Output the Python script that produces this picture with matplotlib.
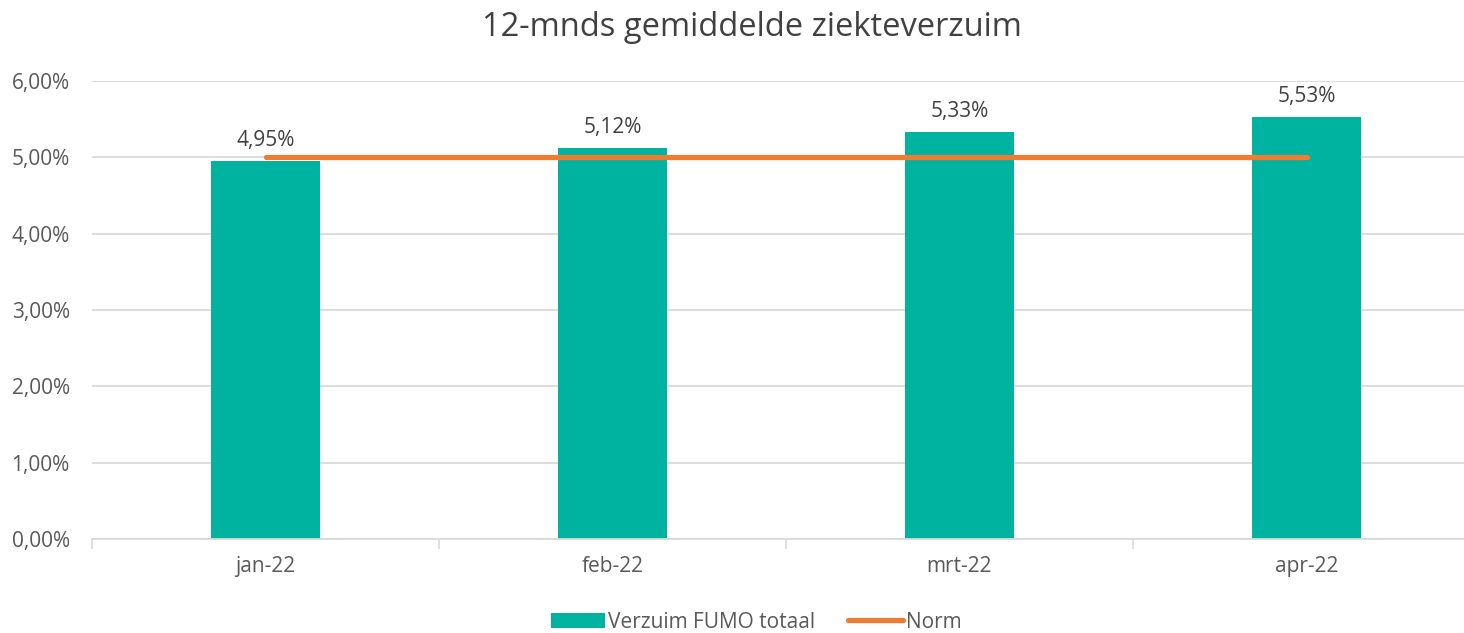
import matplotlib
matplotlib.use("Agg")
import matplotlib.pyplot as plt
from matplotlib.ticker import FuncFormatter

categories = ["jan-22", "feb-22", "mrt-22", "apr-22"]
verzuim = [4.95, 5.12, 5.33, 5.53]
norm = [5.0, 5.0, 5.0, 5.0]
yticks = [0, 1, 2, 3, 4, 5, 6]

plt.rcParams['font.family'] = ['Open Sans', 'DejaVu Sans']
txt = "#595959"

W, H = 1464, 633
fig = plt.figure(figsize=(W/100, H/100), dpi=100)
ax = fig.add_axes([92/W, 1-539/H, (1480-92)/W, (539-81)/H])

x = list(range(len(categories)))
ax.bar(x, verzuim, width=0.315, color="#00B2A0", zorder=2, label="Verzuim FUMO totaal")
ax.plot(x, norm, color="#ED7D31", lw=3.8, solid_capstyle="round", zorder=3, label="Norm")

for xi, v in zip(x, verzuim):
    ax.annotate(f"{v:.2f}%".replace(".", ","), (xi, v), xytext=(0, 7), textcoords="offset points",
                ha="center", va="bottom", fontsize=15, color="#404040")

ax.set_xlim(-0.5, 3.5)
ax.set_ylim(0, 6)
ax.set_yticks(yticks)
ax.yaxis.set_major_formatter(FuncFormatter(lambda v, p: f"{v:.2f}%".replace(".", ",")))
ax.set_xticks(x)
ax.set_xticklabels(categories)
ax.set_xticks([-0.5, 0.5, 1.5, 2.5, 3.5], minor=True)
ax.tick_params(axis="x", which="major", length=0, pad=12, labelsize=15, labelcolor=txt)
ax.tick_params(axis="x", which="minor", length=7, color="#d9d9d9", width=1.2)
ax.tick_params(axis="y", length=0, pad=16, labelsize=15, labelcolor=txt)

ax.grid(axis="y", color="#d9d9d9", lw=1.3, zorder=0)
for s in ["top", "right", "left"]:
    ax.spines[s].set_visible(False)
ax.spines["bottom"].set_color("#d9d9d9")
ax.spines["bottom"].set_linewidth(1.3)

fig.text(752/W, 1-28/H, "12-mnds gemiddelde ziekteverzuim", ha="center", va="center",
         fontsize=23.5, color="#404040")

h, l = ax.get_legend_handles_labels()
order = [l.index("Verzuim FUMO totaal"), l.index("Norm")]
leg = fig.legend([h[i] for i in order], [l[i] for i in order], loc="center",
                 bbox_to_anchor=(756/W, 1-622/H), ncol=2, frameon=False,
                 fontsize=15, handlelength=2.6, handleheight=0.7, handletextpad=0.15,
                 columnspacing=1.6)
for t in leg.get_texts():
    t.set_color(txt)

fig.savefig("out.png", dpi=100)
